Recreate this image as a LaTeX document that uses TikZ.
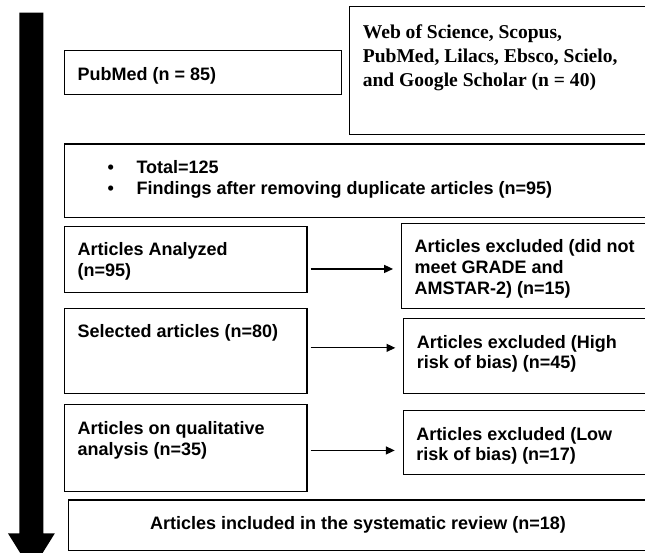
\documentclass[tikz,border=0pt]{standalone}
\usepackage{fontspec}
\setmainfont{Liberation Sans}
\newfontfamily\serifbold{Liberation Serif}
\usepackage{tikz}
\usetikzlibrary{arrows.meta,positioning}
\newcommand{\boxtext}[3]{\parbox[c][#1][t]{#2}{\raggedright\vspace*{0.37cm}\strut #3}}
\newcommand{\bitem}{\hspace*{0.75cm}\makebox[0.725cm][l]{\textbullet}}
\tikzset{
  stage/.style={draw, line width=0.8pt, anchor=north west, inner xsep=0.325cm, inner ysep=0pt,
    font=\bfseries\fontsize{12.8}{14.9}\selectfont},
  link/.style={-{Triangle[length=0.22cm,width=0.2cm]}, line width=0.8pt, shorten <=0.08cm, shorten >=0.2cm}
}

\begin{document}
\begin{tikzpicture}
          \useasboundingbox (0,0) rectangle (16.125,13.825);
          \clip (0,0) rectangle (16.125,13.825);

          \fill (0.4825,13.51) -- (0.4825,0.49) -- (0.2,0.49) -- (0.785,-0.45)
                -- (1.37,0.49) -- (1.0825,0.49) -- (1.0825,13.51) -- cycle;

          \node[stage] (pubmed) at (1.6,12.575) {\boxtext{1.1075cm}{6.275cm}{PubMed (n = 85)}};
          \node[stage, font=\serifbold\bfseries\fontsize{13.9}{17.1}\selectfont] (wos) at (8.7325,13.675)
                {\boxtext{3.2075cm}{7.0cm}{Web of Science, Scopus,\\PubMed, Lilacs, Ebsco, Scielo,\\and Google Scholar (n = 40)}};

          \node[stage] (total) at (1.6,10.2375)
                {\boxtext{1.83cm}{14.0cm}{\bitem Total=125\\\bitem Findings after removing duplicate articles (n=95)}};

          \node[stage] (analyzed) at (1.6,8.1825) {\boxtext{1.65cm}{5.41cm}{Articles Analyzed\\(n=95)}};
          \node[stage] (exclgrade) at (10.025,8.2575)
                {\boxtext{2.125cm}{5.8cm}{Articles excluded (did not\\meet GRADE and\\AMSTAR-2) (n=15)}};

          \node[stage] (selected) at (1.6,6.1325) {\boxtext{2.14cm}{5.41cm}{Selected articles (n=80)}};
          \node[stage] (exclhigh) at (10.0825,5.875)
                {\boxtext{1.8825cm}{5.8cm}{Articles excluded (High\\risk of bias) (n=45)}};

          \node[stage] (qualitative) at (1.6,3.7175) {\boxtext{2.16cm}{5.41cm}{Articles on qualitative\\analysis (n=35)}};
          \node[stage] (excllow) at (10.0675,3.575)
                {\boxtext{1.6075cm}{5.8cm}{Articles excluded (Low\\risk of bias) (n=17)}};

          \node[stage, inner sep=0pt, minimum width=14.4875cm, minimum height=1.2625cm] (included) at (1.6925,1.3375)
                {Articles included in the systematic review (n=18)};

          \draw[link] ([yshift=-0.08cm]analyzed.east |- exclgrade.west) -- ([yshift=-0.08cm]exclgrade.west);
          \draw[link] ([yshift=0.08cm]selected.east) -- ([yshift=0.08cm]selected.east -| exclhigh.west);
          \draw[link] ([yshift=-0.06cm]qualitative.east) -- ([yshift=-0.06cm]qualitative.east -| excllow.west);
        \end{tikzpicture}
\end{document}
